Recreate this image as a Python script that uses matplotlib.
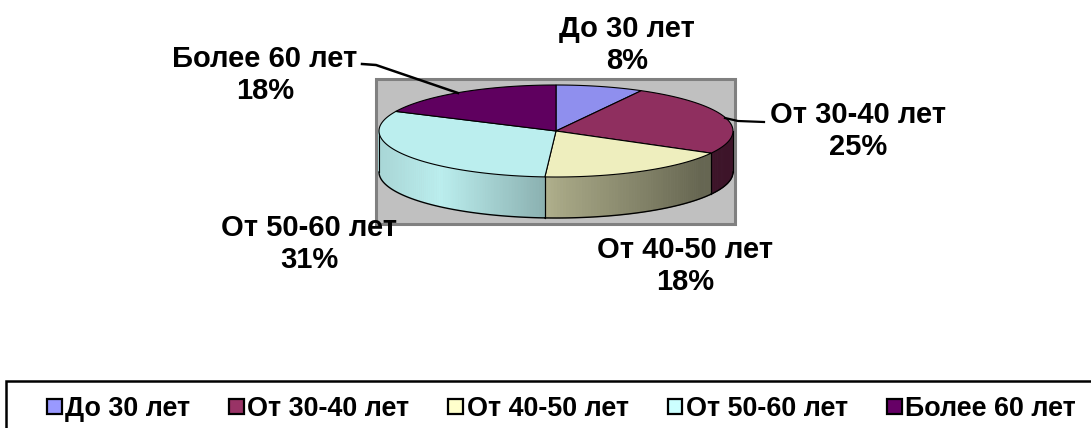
import matplotlib
matplotlib.use("Agg")
import matplotlib.pyplot as plt
import matplotlib.patches as patches
import numpy as np

categories = ["До 30 лет", "От 30-40 лет", "От 40-50 лет", "От 50-60 лет", "Более 60 лет"]
values = [8, 25, 18, 31, 18]
top_colors = ["#8F8FEE", "#8F2F5F", "#EEEEBE", "#BBEEEE", "#5F005F"]
legend_colors = ["#9999FF", "#993366", "#FFFFCC", "#CCFFFF", "#660066"]

plt.rcParams['font.family'] = ['Liberation Sans', 'DejaVu Sans']
plt.rcParams['font.weight'] = 'bold'

# pie geometry in pixels
cx, cy = 556, 131
rx, ry = 177, 46
depth = 41


def rim(theta):
    # theta is degrees clockwise from 12 o'clock
    t = np.radians(theta)
    return cx + rx * np.sin(t), cy - ry * np.cos(t)


fig = plt.figure(figsize=(10.91, 4.28), dpi=100)
ax = fig.add_axes([0, 0, 1, 1])
ax.set_xlim(0, 1091)
ax.set_ylim(428, 0)
ax.axis("off")

# grey plot area
ax.add_patch(patches.Rectangle((376, 79), 359, 145, fc="#C0C0C0", ec="#808080", lw=2.2, zorder=1))

# side of the pie, shaded by x
shade_x = [379, 440, 545, 560, 640, 700, 733]
shade_f = [0.90, 1.00, 0.74, 0.70, 0.55, 0.43, 0.43]
bounds = np.concatenate([[0], np.cumsum(values)]) * 3.6
for i in range(len(values)):
    a = max(bounds[i], 90)
    b = min(bounds[i + 1], 270)
    if a >= b:
        continue
    angles = np.arange(a, b + 0.5, 1.0)
    angles[-1] = b
    base = np.array(matplotlib.colors.to_rgb(top_colors[i]))
    for t0, t1 in zip(angles[:-1], angles[1:]):
        x0, y0 = rim(t0)
        x1, y1 = rim(t1)
        f = np.interp((x0 + x1) / 2, shade_x, shade_f)
        ax.fill([x0, x1, x1, x0], [y0, y1, y1 + depth, y0 + depth], color=base * f, lw=0.6, zorder=2)
    xa, ya = rim(a)
    xb, yb = rim(b)
    ax.plot([xa, xa], [ya, ya + depth], color="black", lw=0.8, zorder=3)
    ax.plot([xb, xb], [yb, yb + depth], color="black", lw=0.8, zorder=3)
    low = np.linspace(a, b, 80)
    lx, ly = rim(low)
    ax.plot(lx, ly + depth, color="black", lw=1.0, zorder=3)

# top of the pie
for i in range(len(values)):
    th = np.linspace(bounds[i], bounds[i + 1], 100)
    x, y = rim(th)
    ax.fill(np.r_[cx, x], np.r_[cy, y], fc=top_colors[i], ec="black", lw=0.8, zorder=4)

# leader lines
ax.plot([362, 376, 458], [64, 65, 93], color="black", lw=1.8, zorder=5)
ax.plot([725, 738, 764], [118, 121, 122], color="black", lw=1.6, zorder=5)

# data labels
label_pos = [(627, 45), (858, 131), (685, 266), (309, 244), (265, 75)]
for c, v, (lx, ly) in zip(categories, values, label_pos):
    ax.text(lx, ly, f"{c}\n{v}%", ha="center", va="center", fontsize=21, linespacing=1.2,
            fontweight="bold", color="black", zorder=6)

# legend box runs off the right and bottom edge
ax.add_patch(patches.Rectangle((5.5, 381), 1100, 60, fc="white", ec="black", lw=1.8, zorder=1))
handles = [patches.Patch(fc=c, ec="black", lw=1.6) for c in legend_colors]
ax.legend(handles, categories, loc="center left", bbox_to_anchor=(47 / 1091, 1 - 409 / 428),
          ncol=5, frameon=False, fontsize=19.4, handlelength=0.55, handleheight=0.5,
          handletextpad=0.12, columnspacing=1.45, borderpad=0, borderaxespad=0)

fig.savefig("out.png", dpi=100)
